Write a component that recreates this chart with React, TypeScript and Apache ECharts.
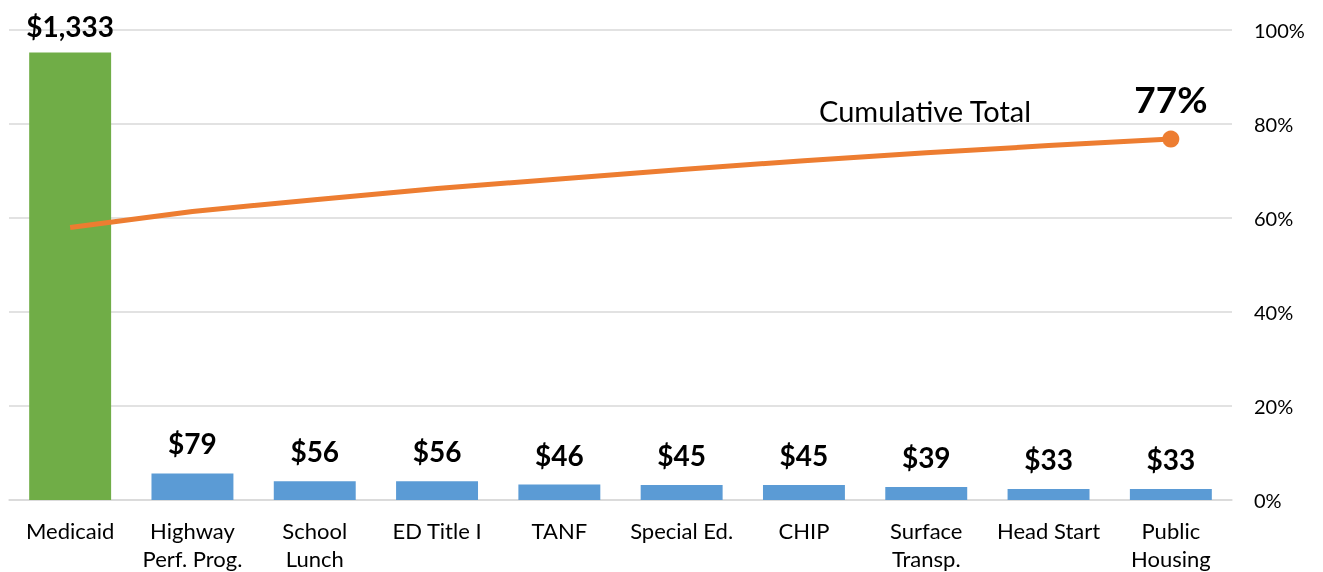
import React, { useEffect, useRef } from "react";
import * as echarts from "echarts";

const categories = [
  "Medicaid",
  "Highway\nPerf. Prog.",
  "School\nLunch",
  "ED Title I",
  "TANF",
  "Special Ed.",
  "CHIP",
  "Surface\nTransp.",
  "Head Start",
  "Public\nHousing",
];
const spending = [1333, 79, 56, 56, 46, 45, 45, 39, 33, 33];
const cumulativePct = [58.0, 61.4, 63.9, 66.3, 68.3, 70.3, 72.2, 73.9, 75.4, 76.8];
const rightTicks = [0, 20, 40, 60, 80, 100];

const FONT = "Lato, 'Open Sans', sans-serif";

export default function App() {
  const ref = useRef<HTMLDivElement>(null);
  useEffect(() => {
    if (!ref.current) return;
    const chart = echarts.init(ref.current, undefined, { renderer: "svg" });
    const last = cumulativePct.length - 1;
    chart.setOption({
      animation: false,
      textStyle: { fontFamily: FONT },
      grid: { left: 9, right: 91, top: 30, bottom: 67 },
      xAxis: {
        type: "category",
        data: categories,
        axisLine: { show: true, lineStyle: { color: "#D9D9D9", width: 1.5 } },
        axisTick: { show: false },
        axisLabel: {
          color: "#000",
          fontSize: 22,
          lineHeight: 28,
          margin: 16,
          interval: 0,
          fontFamily: FONT,
        },
      },
      yAxis: [
        {
          type: "value",
          min: 0,
          max: 1400,
          show: false,
          splitLine: { show: false },
        },
        {
          type: "value",
          min: 0,
          max: 100,
          interval: 20,
          position: "right",
          axisLine: { show: false },
          axisTick: { show: false },
          axisLabel: {
            color: "#000",
            fontSize: 20,
            margin: 22,
            formatter: (v: number) => (rightTicks.includes(v) ? v + "%" : ""),
            fontFamily: FONT,
          },
          splitLine: { show: true, lineStyle: { color: "#D9D9D9", width: 1.5 } },
        },
      ],
      series: [
        {
          type: "bar",
          yAxisIndex: 0,
          barWidth: "67%",
          data: spending.map((v, i) => ({
            value: v,
            itemStyle: { color: i === 0 ? "#70AD47" : "#5B9BD5" },
            label: { distance: i === 0 ? 12 : 16 },
          })),
          label: {
            show: true,
            position: "top",
            distance: 14,
            color: "#000",
            fontSize: 28,
            fontWeight: "bold",
            fontFamily: FONT,
            formatter: (p: any) => "$" + p.value.toLocaleString("en-US"),
          },
        },
        {
          type: "line",
          yAxisIndex: 1,
          data: cumulativePct.map((v, i) => ({
            value: v,
            symbol: i === last ? "circle" : "none",
            symbolSize: 17,
            label:
              i === last
                ? {
                    show: true,
                    position: "top",
                    distance: 14,
                    formatter: "77%",
                    fontSize: 37,
                    fontWeight: "bold",
                    color: "#000",
                    fontFamily: FONT,
                  }
                : { show: false },
          })),
          lineStyle: { color: "#ED7D31", width: 5 },
          itemStyle: { color: "#ED7D31" },
          showSymbol: true,
          z: 5,
        },
      ],
      graphic: [
        {
          type: "text",
          left: 819,
          top: 96,
          style: {
            text: "Cumulative Total",
            fontSize: 29,
            fill: "#000",
            fontFamily: FONT,
          },
        },
      ],
    });
    return () => chart.dispose();
  }, []);
  return (
    <div
      ref={ref}
      style={{ position: "fixed", left: 0, top: 0, width: 1323, height: 572 }}
    />
  );
}
